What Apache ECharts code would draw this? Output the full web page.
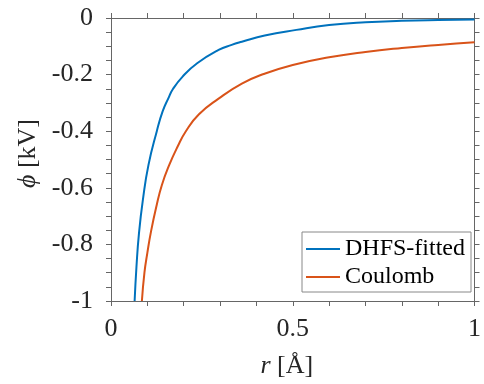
<!DOCTYPE html>
<html>
<head>
<meta charset="utf-8">
<script src="https://cdn.jsdelivr.net/npm/echarts@6/dist/echarts.min.js"></script>
<style>
  html, body { margin: 0; padding: 0; background: #fff; }
  #chart { width: 484px; height: 384px; }
</style>
</head>
<body>
<div id="chart"></div>
<script>
// values
const rDhfs = [0.065, 0.070, 0.077, 0.088, 0.103, 0.126, 0.142, 0.158, 0.170, 0.197, 0.237, 0.296, 0.332, 0.360, 0.423, 0.510, 0.600, 0.700, 0.800, 0.900, 1.000];
const phiDhfs = [-1.0, -0.88, -0.76, -0.64, -0.52, -0.40, -0.33, -0.283, -0.252, -0.207, -0.16, -0.113, -0.095, -0.084, -0.062, -0.042, -0.025, -0.015, -0.01, -0.007, -0.005];

const rCoul = [0.085, 0.092, 0.100, 0.110, 0.125, 0.140, 0.160, 0.183, 0.206, 0.242, 0.296, 0.360, 0.420, 0.500, 0.600, 0.700, 0.800, 0.900, 1.000];
const phiCoul = [-1.0, -0.9, -0.83, -0.755, -0.665, -0.59, -0.52, -0.455, -0.40, -0.34, -0.285, -0.232, -0.198, -0.166, -0.139, -0.12, -0.106, -0.095, -0.086];

const seriesNames = ['DHFS-fitted', 'Coulomb'];
const colors = ['#0072BD', '#D95319'];

const FONT = '"Liberation Serif", "DejaVu Serif", serif';
const AXIS_COLOR = '#666';
const TEXT_COLOR = '#262626';

const chart = echarts.init(document.getElementById('chart'));

function tick() {
  return { show: true, inside: false, length: 5, lineStyle: { color: AXIS_COLOR, width: 1 } };
}
function minor(n) {
  return { show: true, splitNumber: n, length: 5, lineStyle: { color: AXIS_COLOR, width: 1 } };
}
function line() {
  return { show: true, onZero: false, lineStyle: { color: AXIS_COLOR, width: 1 } };
}
function nameStyle(padding) {
  return {
    fontFamily: FONT,
    fontSize: 26,
    color: TEXT_COLOR,
    padding: padding,
    rich: { i: { fontFamily: FONT, fontSize: 26, fontStyle: 'italic', color: TEXT_COLOR } },
  };
}

chart.setOption({
  animation: false,
  grid: { left: 111, right: 5, top: 18, bottom: 83 },
  legend: {
    data: seriesNames.map((n) => ({ name: n, icon: 'rect' })),
    orient: 'vertical',
    right: 13,
    top: 232,
    padding: [3, 6, 1, 4],
    itemGap: 0,
    itemWidth: 34,
    itemHeight: 2,
    backgroundColor: '#fff',
    borderColor: '#888',
    borderWidth: 1,
    textStyle: { fontFamily: FONT, fontSize: 24, color: '#000', lineHeight: 28 },
  },
  xAxis: [
    {
      type: 'value',
      min: 0,
      max: 1,
      interval: 0.5,
      name: '{i|r} [Å]',
      nameLocation: 'middle',
      nameGap: 52,
      nameTextStyle: nameStyle([0, 12, 0, 0]),
      axisLine: line(),
      axisTick: tick(),
      minorTick: minor(5),
      splitLine: { show: false },
      axisLabel: { fontFamily: FONT, fontSize: 26, color: TEXT_COLOR, margin: 15 },
    },
    {
      type: 'value',
      position: 'top',
      min: 0,
      max: 1,
      interval: 0.5,
      axisLine: line(),
      axisTick: tick(),
      minorTick: minor(5),
      splitLine: { show: false },
      axisLabel: { show: false },
    },
  ],
  yAxis: [
    {
      type: 'value',
      min: -1,
      max: 0,
      interval: 0.2,
      name: '{i|ϕ} [kV]',
      nameLocation: 'middle',
      nameGap: 70,
      nameTextStyle: nameStyle([0, 0, 0, 12]),
      axisLine: line(),
      axisTick: tick(),
      minorTick: minor(4),
      splitLine: { show: false },
      axisLabel: { fontFamily: FONT, fontSize: 26, color: TEXT_COLOR, margin: 18 },
    },
    {
      type: 'value',
      position: 'right',
      min: -1,
      max: 0,
      interval: 0.2,
      axisLine: line(),
      axisTick: tick(),
      minorTick: minor(4),
      splitLine: { show: false },
      axisLabel: { show: false },
    },
  ],
  series: [
    {
      name: seriesNames[0],
      type: 'line',
      data: rDhfs.map((r, i) => [r, phiDhfs[i]]),
      smooth: 0.5,
      symbol: 'none',
      clip: true,
      lineStyle: { color: colors[0], width: 2 },
      itemStyle: { color: colors[0] },
    },
    {
      name: seriesNames[1],
      type: 'line',
      data: rCoul.map((r, i) => [r, phiCoul[i]]),
      smooth: 0.5,
      symbol: 'none',
      clip: true,
      lineStyle: { color: colors[1], width: 2 },
      itemStyle: { color: colors[1] },
    },
  ],
});
</script>
</body>
</html>
